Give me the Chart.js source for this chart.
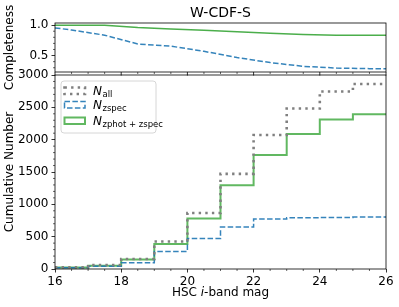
<!DOCTYPE html>
<html><head><meta charset="utf-8">
<script src="https://cdn.jsdelivr.net/npm/chart.js@4.4.0/dist/chart.umd.min.js"></script>
<style>
html,body{margin:0;padding:0;background:#fff;}
#wrap{position:relative;width:399px;height:307px;background:#fff;}
canvas{position:absolute;left:0;top:0;}
</style></head><body>
<div id="wrap">
<canvas id="bot" width="399" height="307"></canvas>
<canvas id="top" width="399" height="307"></canvas>
</div>
<script>
// ---- data ----
const binEdges = [16,17,18,19,20,21,22,23,24,25,26];
const nAll    = [25, 62, 155, 425, 865, 1471, 2072, 2482, 2746, 2860];
const nZspec  = [20, 42, 98, 270, 471, 648, 772, 792, 797, 803];
const nZphot  = [22, 50, 145, 385, 782, 1295, 1761, 2088, 2311, 2393];
const compMag   = [16, 16.5, 17.5, 18.5, 19.5, 20.5, 21.5, 22.5, 23.5, 24.5, 25.5, 26];
const compZspec = [0.955, 0.92, 0.835, 0.69, 0.655, 0.57, 0.467, 0.385, 0.323, 0.295, 0.285, 0.285];
const compZphot = [1.0, 1.0, 1.0, 0.96, 0.935, 0.915, 0.89, 0.868, 0.846, 0.835, 0.835, 0.835];
const xTicks = [16,18,20,22,24,26];
const yTicksCum = [0,500,1000,1500,2000,2500,3000];
const yTicksComp = [0.5,1.0];
const titleText = 'W-CDF-S';
const legendLabels = [['N','all'],['N','zspec'],['N','zphot + zspec']];

// ---- setup ----
Chart.defaults.font.family = 'DejaVu Sans';
Chart.defaults.font.size = 12;
Chart.defaults.color = '#000';
const FONT = 'DejaVu Sans';
const GREY = '#808080', BLUE = 'rgba(31,119,180,0.9)', GREEN = 'rgba(44,160,44,0.75)';

function stepPoints(vals){
  const p = vals.map((v,i)=>({x:binEdges[i], y:v}));
  p.push({x:binEdges[binEdges.length-1], y:vals[vals.length-1]});
  return p;
}
function linePoints(xs, ys){ return xs.map((x,i)=>({x:x, y:ys[i]})); }

function frame(ctx, a){
  ctx.save(); ctx.strokeStyle='#000'; ctx.lineWidth=0.8; ctx.setLineDash([]);
  ctx.strokeRect(a.left, a.top, a.right-a.left, a.bottom-a.top); ctx.restore();
}
function xMinor(ctx, chart, withMajor){
  const s = chart.scales.x, a = chart.chartArea;
  ctx.save(); ctx.strokeStyle='#000'; ctx.setLineDash([]);
  for (let v = binEdges[0]; v <= binEdges[binEdges.length-1]+1e-9; v += 0.5){
    const isMaj = xTicks.some(t=>Math.abs(t-v)<1e-9);
    if (isMaj && !withMajor) continue;
    const px = s.getPixelForValue(v);
    ctx.lineWidth = isMaj ? 0.8 : 0.6;
    ctx.beginPath(); ctx.moveTo(px, a.bottom); ctx.lineTo(px, a.bottom + (isMaj?3.5:2)); ctx.stroke();
  }
  ctx.restore();
}
function yMinor(ctx, chart, step, majors){
  const s = chart.scales.y, a = chart.chartArea;
  ctx.save(); ctx.strokeStyle='#000'; ctx.lineWidth=0.6; ctx.setLineDash([]);
  const n = Math.round((s.max - s.min)/step)+2;
  const start = Math.ceil(s.min/step)*step;
  for (let i=0;i<n;i++){
    const v = start + i*step;
    if (v > s.max + 1e-9) break;
    if (majors.some(t=>Math.abs(t-v)<1e-6)) continue;
    const py = s.getPixelForValue(v);
    ctx.beginPath(); ctx.moveTo(a.left, py); ctx.lineTo(a.left-2, py); ctx.stroke();
  }
  ctx.restore();
}

const botPlugin = {
  id:'botDeco',
  afterDraw(chart){
    const ctx = chart.ctx, a = chart.chartArea;
    frame(ctx, a);
    xMinor(ctx, chart, false);
    yMinor(ctx, chart, 100, yTicksCum);
    // x label with italic i
    ctx.save(); ctx.fillStyle='#000'; ctx.textBaseline='middle';
    const parts = [['HSC ', '12px '+FONT], ['i', 'italic 12px '+FONT], ['-band mag', '12px '+FONT]];
    let w = 0; parts.forEach(p=>{ ctx.font=p[1]; w += ctx.measureText(p[0]).width; });
    let x = (a.left+a.right)/2 - w/2;
    parts.forEach(p=>{ ctx.font=p[1]; ctx.textAlign='left'; ctx.fillText(p[0], x, 293); x += ctx.measureText(p[0]).width; });
    ctx.restore();
    // legend
    ctx.save();
    const bx=61, by=81, bw=95, bh=52, r=3;
    ctx.beginPath();
    ctx.moveTo(bx+r,by); ctx.lineTo(bx+bw-r,by); ctx.quadraticCurveTo(bx+bw,by,bx+bw,by+r);
    ctx.lineTo(bx+bw,by+bh-r); ctx.quadraticCurveTo(bx+bw,by+bh,bx+bw-r,by+bh);
    ctx.lineTo(bx+r,by+bh); ctx.quadraticCurveTo(bx,by+bh,bx,by+bh-r);
    ctx.lineTo(bx,by+r); ctx.quadraticCurveTo(bx,by,bx+r,by); ctx.closePath();
    ctx.fillStyle='rgba(255,255,255,0.8)'; ctx.fill();
    ctx.strokeStyle='#d6d6d6'; ctx.lineWidth=1; ctx.stroke();
    const rows = [90.7, 104.7, 120.7];
    const styles = chart.data.datasets;
    rows.forEach((cy,i)=>{
      const ds = styles[i];
      ctx.setLineDash(ds.borderDash || []);
      ctx.strokeStyle = ds.borderColor; ctx.lineWidth = ds.borderWidth;
      ctx.strokeRect(64.5, cy-3.2, 20.5, 6.5);
      ctx.setLineDash([]);
      ctx.fillStyle='#000'; ctx.textAlign='left'; ctx.textBaseline='alphabetic';
      ctx.font='italic 12px '+FONT;
      ctx.fillText(legendLabels[i][0], 93, cy+4.3);
      const nw = ctx.measureText(legendLabels[i][0]).width;
      ctx.font='8.5px '+FONT;
      ctx.fillText(legendLabels[i][1], 93+nw+0.5, cy+6.5);
    });
    ctx.restore();
  }
};

const topPlugin = {
  id:'topDeco',
  afterDraw(chart){
    const ctx = chart.ctx, a = chart.chartArea;
    frame(ctx, a);
    xMinor(ctx, chart, true);
    yMinor(ctx, chart, 0.1, yTicksComp);
    ctx.save(); ctx.fillStyle='#000'; ctx.font='14px '+FONT; ctx.textAlign='center'; ctx.textBaseline='middle';
    ctx.fillText(titleText, (a.left+a.right)/2, 13); ctx.restore();
  }
};

const yAxisCommon = (title, ticksArr, fmt, pad) => ({
  type:'linear',
  afterFit: s => { s.width = 55; },
  afterBuildTicks: s => { s.ticks = ticksArr.map(v=>({value:v})); },
  ticks:{ font:{size:12, family:FONT}, color:'#000', padding:3, callback: fmt },
  grid:{ display:true, drawOnChartArea:false, drawTicks:true, tickLength:3.5, tickWidth:0.8, tickColor:'#000' },
  border:{ display:false },
  title:{ display:true, text:title, font:{size:12, family:FONT}, color:'#000', padding:{top:pad, bottom:0} }
});

// bottom chart: cumulative numbers
new Chart(document.getElementById('bot'), {
  type:'line',
  data:{ datasets:[
    { label:'N_all', data:stepPoints(nAll), stepped:'before', borderColor:GREY, borderWidth:2.6, borderDash:[2.4,4.2], borderCapStyle:'butt', pointRadius:0, fill:false, order:0 },
    { label:'N_zspec', data:stepPoints(nZspec), stepped:'before', borderColor:BLUE, borderWidth:1.5, borderDash:[5.5,2.4], pointRadius:0, fill:false, order:1 },
    { label:'N_zphot+zspec', data:stepPoints(nZphot), stepped:'before', borderColor:GREEN, borderWidth:2, pointRadius:0, fill:false, order:2 }
  ]},
  options:{
    responsive:false, animation:false, devicePixelRatio:1,
    layout:{ padding:{ left:0, right:13, top:75, bottom:0 } },
    plugins:{ legend:{display:false}, tooltip:{enabled:false}, title:{display:false} },
    scales:{
      x:{ type:'linear', min:16, max:26,
        afterFit: s => { s.height = 38; },
        afterBuildTicks: s => { s.ticks = xTicks.map(v=>({value:v})); },
        ticks:{ font:{size:12, family:FONT}, color:'#000', padding:2, maxRotation:0 },
        grid:{ display:true, drawOnChartArea:false, drawTicks:true, tickLength:3.5, tickWidth:0.8, tickColor:'#000' },
        border:{ display:false }
      },
      y: Object.assign(yAxisCommon('Cumulative Number', yTicksCum, v=>String(v), 3), { min:0, max:3000 })
    }
  },
  plugins:[botPlugin]
});

// top chart: completeness
new Chart(document.getElementById('top'), {
  type:'line',
  data:{ datasets:[
    { label:'zspec', data:linePoints(compMag, compZspec), borderColor:BLUE, borderWidth:1.5, borderDash:[5.5,2.4], pointRadius:0, tension:0, fill:false },
    { label:'zphot+zspec', data:linePoints(compMag, compZphot), borderColor:'rgba(44,160,44,0.85)', borderWidth:1.5, pointRadius:0, tension:0, fill:false }
  ]},
  options:{
    responsive:false, animation:false, devicePixelRatio:1,
    layout:{ padding:{ left:0, right:13, top:23, bottom:235 } },
    plugins:{ legend:{display:false}, tooltip:{enabled:false}, title:{display:false} },
    scales:{
      x:{ type:'linear', min:16, max:26, display:false },
      y: Object.assign(yAxisCommon('Completeness', yTicksComp, v=>Number(v).toFixed(1), 3), { min:0.23, max:1.035 })
    }
  },
  plugins:[topPlugin]
});
</script>
</body></html>
